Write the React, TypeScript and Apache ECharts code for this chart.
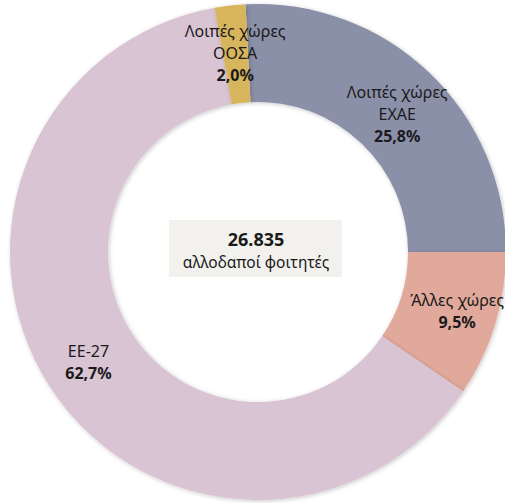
import React, { useEffect, useRef } from "react";
import * as echarts from "echarts";

const categories = ["Λοιπές χώρες\nΕΧΑΕ", "Άλλες χώρες", "ΕΕ-27", "Λοιπές χώρες\nΟΟΣΑ"];
const shares = [25.8, 9.5, 62.7, 2.0];
const colors = ["#8b90a9", "#e1a99b", "#d9c4d4", "#d7b55b"];
const labelOffsets = [[0, 8], [6, 0], [0, 0], [0, 2]];
const totalStudents = 26835;
const centerCaption = "αλλοδαποί φοιτητές";

const FONT = "'Noto Sans', sans-serif";

function fmtPct(v: number) {
  return v.toFixed(1).replace(".", ",") + "%";
}
function fmtTotal(v: number) {
  return v.toString().replace(/\B(?=(\d{3})+(?!\d))/g, ".");
}

export default function App() {
  const ref = useRef<HTMLDivElement>(null);
  useEffect(() => {
    if (!ref.current) return;
    const chart = echarts.init(ref.current, undefined, { renderer: "svg" });
    chart.setOption({
      animation: false,
      backgroundColor: "#ffffff",
      series: [
        {
          type: "pie",
          center: [258, 252],
          radius: [150, 248],
          startAngle: 90 + ((shares[0] / 100) * 360 - 90),
          clockwise: true,
          avoidLabelOverlap: false,
          itemStyle: {
            shadowBlur: 4,
            shadowColor: "rgba(0,0,0,0.22)",
            shadowOffsetX: 1,
            shadowOffsetY: 1,
          },
          label: {
            show: true,
            position: "inside",
            fontFamily: FONT,
            color: "#1a1a1a",
            formatter: (p: any) => {
              const lines = String(p.name).split("\n").map((l: string) => `{n|${l}}`);
              return lines.join("\n") + `\n{p|${fmtPct(p.value)}}`;
            },
            rich: {
              n: { fontFamily: FONT, fontSize: 16, lineHeight: 22, color: "#1a1a1a" },
              p: { fontFamily: FONT, fontSize: 16, fontWeight: "bold", lineHeight: 22, color: "#1a1a1a" },
            },
          },
          labelLine: { show: false },
          data: categories.map((c, i) => ({
            name: c,
            value: shares[i],
            itemStyle: { color: colors[i] },
            label: { offset: labelOffsets[i] },
          })),
        },
      ],
      graphic: [
        {
          type: "group",
          children: [
            { type: "rect", shape: { x: 169, y: 220, width: 173, height: 57 }, style: { fill: "#f2f1ee" } },
            {
              type: "text",
              x: 256,
              y: 239,
              style: {
                text: fmtTotal(totalStudents),
                fontFamily: FONT,
                fontSize: 18,
                fontWeight: "bold",
                fill: "#1a1a1a",
                align: "center",
                verticalAlign: "middle",
              },
            },
            {
              type: "text",
              x: 256,
              y: 262,
              style: {
                text: centerCaption,
                fontFamily: FONT,
                fontSize: 15.5,
                fill: "#1a1a1a",
                align: "center",
                verticalAlign: "middle",
              },
            },
          ],
        },
      ],
    });
    return () => chart.dispose();
  }, []);
  return <div ref={ref} style={{ position: "fixed", left: 0, top: 0, width: 505, height: 503 }} />;
}
